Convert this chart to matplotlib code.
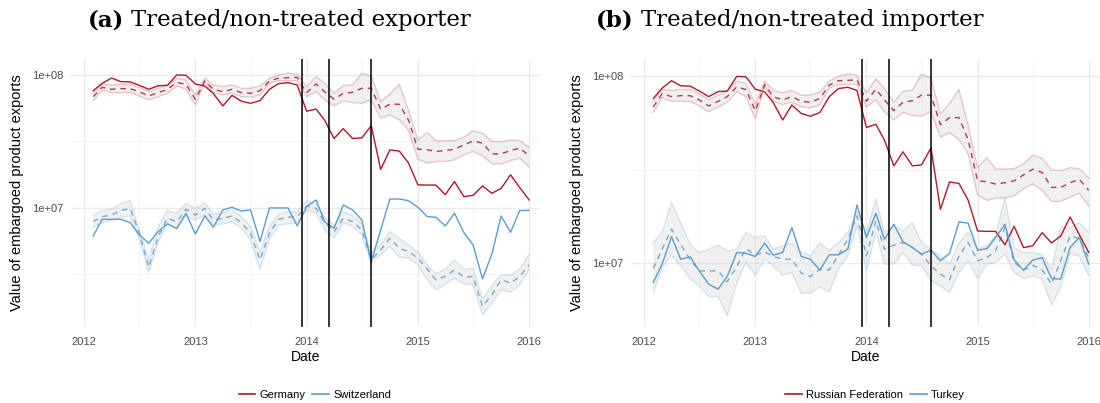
import matplotlib as mpl
import matplotlib.pyplot as plt
import matplotlib.dates as mdates
from matplotlib.lines import Line2D
import numpy as np
import pandas as pd

mpl.rcParams['font.family'] = ['Liberation Sans', 'DejaVu Sans']

# monthly observations, values stored as log10(USD)
months = pd.date_range("2012-02-01", periods=48, freq="MS")

# treated flow Germany -> Russian Federation: actual and synthetic control
treated_log = [7.88, 7.935, 7.975, 7.948, 7.946, 7.92, 7.89, 7.917, 7.92, 7.998, 7.996, 7.93,
               7.915, 7.858, 7.765, 7.845, 7.80, 7.785, 7.805, 7.89, 7.933, 7.94, 7.923, 7.725,
               7.742, 7.658, 7.52, 7.595, 7.52, 7.525, 7.616, 7.288, 7.434, 7.426, 7.337, 7.172,
               7.17, 7.17, 7.098, 7.197, 7.083, 7.093, 7.163, 7.108, 7.145, 7.247, 7.152, 7.058]
synth_log = [7.835, 7.905, 7.89, 7.895, 7.895, 7.872, 7.84, 7.865, 7.89, 7.942, 7.928, 7.814,
             7.954, 7.89, 7.872, 7.89, 7.865, 7.86, 7.88, 7.952, 7.975, 7.977, 7.98, 7.865,
             7.93, 7.872, 7.815, 7.86, 7.868, 7.898, 7.898, 7.74, 7.778, 7.778, 7.66, 7.44,
             7.435, 7.423, 7.43, 7.44, 7.472, 7.502, 7.485, 7.405, 7.405, 7.43, 7.448, 7.39]
synth_hi_log = [7.865, 7.928, 7.923, 7.928, 7.928, 7.905, 7.873, 7.898, 7.918, 7.973, 7.96, 7.848,
                7.973, 7.923, 7.91, 7.923, 7.898, 7.898, 7.915, 7.973, 7.998, 8.012, 8.005, 7.91,
                7.985, 7.935, 7.86, 7.918, 7.925, 8.01, 7.99, 7.798, 7.853, 7.928, 7.735, 7.51,
                7.565, 7.503, 7.503, 7.505, 7.53, 7.578, 7.56, 7.498, 7.495, 7.51, 7.505, 7.455]
synth_lo_log = [7.805, 7.885, 7.865, 7.865, 7.865, 7.84, 7.81, 7.835, 7.86, 7.915, 7.89, 7.773,
                7.948, 7.865, 7.848, 7.86, 7.835, 7.83, 7.848, 7.935, 7.955, 7.955, 7.955, 7.835,
                7.873, 7.81, 7.765, 7.805, 7.79, 7.785, 7.81, 7.673, 7.698, 7.66, 7.585, 7.365,
                7.335, 7.348, 7.348, 7.36, 7.398, 7.423, 7.39, 7.33, 7.33, 7.353, 7.373, 7.305]

# non-treated exporter: Switzerland
ch_log = [6.788, 6.913, 6.913, 6.913, 6.888, 6.795, 6.733, 6.82, 6.878, 6.845, 6.958, 6.803,
          6.938, 6.853, 6.983, 7.003, 6.975, 6.983, 6.745, 6.998, 6.998, 6.998, 6.863, 7.008,
          7.058, 6.895, 6.845, 7.02, 6.983, 6.908, 6.595, 6.833, 7.065, 7.065, 7.053, 7.003,
          6.933, 6.928, 6.863, 6.958, 6.813, 6.72, 6.465, 6.653, 6.938, 6.815, 6.978, 6.98]
ch_synth_log = [6.895, 6.933, 6.945, 6.978, 6.995, 6.808, 6.553, 6.783, 6.92, 6.895, 6.988, 6.945,
                6.995, 6.908, 6.92, 6.938, 6.888, 6.808, 6.608, 6.808, 6.913, 6.928, 6.933, 7.013,
                6.995, 6.888, 6.82, 6.92, 6.895, 6.833, 6.608, 6.683, 6.77, 6.695, 6.67, 6.62,
                6.538, 6.458, 6.483, 6.533, 6.478, 6.483, 6.258, 6.345, 6.458, 6.433, 6.483, 6.57]
ch_hi_log = [6.945, 6.978, 6.988, 7.033, 7.053, 6.833, 6.608, 6.858, 6.978, 6.958, 7.033, 6.995,
             7.038, 6.953, 6.963, 6.983, 6.933, 6.858, 6.67, 6.858, 6.953, 6.97, 6.97, 7.053,
             7.028, 6.928, 6.87, 6.97, 6.938, 6.883, 6.663, 6.72, 6.82, 6.77, 6.72, 6.67,
             6.57, 6.503, 6.538, 6.608, 6.538, 6.545, 6.313, 6.413, 6.495, 6.495, 6.538, 6.653]
ch_lo_log = [6.853, 6.888, 6.903, 6.928, 6.938, 6.763, 6.513, 6.738, 6.883, 6.838, 6.938, 6.908,
             6.945, 6.87, 6.878, 6.895, 6.845, 6.758, 6.538, 6.763, 6.87, 6.878, 6.888, 6.978,
             6.958, 6.833, 6.77, 6.888, 6.858, 6.795, 6.583, 6.645, 6.708, 6.628, 6.62, 6.57,
             6.458, 6.383, 6.42, 6.47, 6.428, 6.42, 6.195, 6.278, 6.383, 6.363, 6.42, 6.535]

# non-treated importer: Turkey
tr_log = [6.897, 6.995, 7.142, 7.021, 7.034, 6.959, 6.888, 6.861, 6.929, 7.057, 7.053, 7.036,
          7.107, 7.043, 7.057, 7.19, 7.036, 7.021, 6.963, 7.045, 7.045, 7.075, 7.311, 7.137,
          7.267, 7.128, 7.208, 7.114, 7.084, 7.048, 7.069, 7.013, 7.052, 7.221, 7.214, 7.069,
          7.078, 7.137, 7.208, 7.018, 6.963, 7.016, 7.03, 6.918, 6.915, 7.084, 7.137, 6.995]
tr_synth_log = [6.972, 7.075, 7.182, 7.101, 7.018, 6.959, 6.959, 6.959, 6.90, 6.982, 7.078, 7.043,
                7.061, 7.036, 7.021, 7.021, 6.947, 6.929, 6.968, 6.964, 7.043, 7.128, 7.253, 7.039,
                7.226, 7.075, 7.096, 7.11, 7.084, 7.048, 6.986, 6.941, 6.911, 7.039, 7.11, 7.013,
                7.03, 7.066, 7.19, 7.004, 6.963, 6.989, 6.964, 6.888, 7.013, 7.146, 7.132, 7.03]
tr_hi_log = [7.11, 7.164, 7.327, 7.217, 7.101, 7.057, 7.075, 7.096, 7.066, 7.075, 7.164, 7.137,
             7.146, 7.075, 7.093, 7.107, 7.061, 7.039, 7.11, 7.066, 7.11, 7.164, 7.279, 7.164,
             7.345, 7.164, 7.199, 7.173, 7.217, 7.11, 7.075, 7.039, 6.995, 7.11, 7.164, 7.075,
             7.093, 7.146, 7.351, 7.084, 7.057, 7.057, 7.048, 6.968, 7.19, 7.19, 7.217, 7.164]
tr_lo_log = [6.843, 6.977, 7.043, 6.986, 6.918, 6.879, 6.822, 6.822, 6.719, 6.893, 7.004, 6.936,
             7.021, 6.986, 6.936, 6.95, 6.84, 6.84, 6.874, 6.847, 6.968, 7.039, 7.199, 6.959,
             7.164, 6.995, 6.995, 7.057, 6.989, 6.986, 6.906, 6.879, 6.843, 6.95, 7.013, 6.918,
             6.995, 7.004, 7.048, 6.95, 6.918, 6.932, 6.915, 6.776, 6.87, 7.048, 7.039, 6.932]

# embargo-related events
events = ["2013-12-16", "2014-03-17", "2014-07-31"]

RED = '#B2182B'
BLUE = '#5A9FCC'


def lv(a):
    return 10 ** np.asarray(a)


fig = plt.figure(figsize=(11, 4.03), dpi=100)
ax1 = fig.add_axes([0.0643, 0.1886, 0.4267, 0.665])
ax2 = fig.add_axes([0.5734, 0.1886, 0.4263, 0.665])


def draw_panel(ax, pairs, ylim):
    for color, act, syn, lo, hi in pairs:
        ax.fill_between(months, lv(lo), lv(hi), facecolor='#DADADA', alpha=0.4,
                        edgecolor='none', zorder=2)
        ax.plot(months, lv(lo), color=color, alpha=0.22, lw=1.0, zorder=2)
        ax.plot(months, lv(hi), color=color, alpha=0.22, lw=1.0, zorder=2)
        ax.plot(months, lv(syn), color=color, alpha=0.85, lw=1.0, ls=(0, (4, 3.5)), zorder=3)
        ax.plot(months, lv(act), color=color, lw=1.0, zorder=4)
    for d in events:
        ax.axvline(pd.Timestamp(d), color='black', lw=1.1, zorder=5)

    ax.set_yscale('log')
    ax.set_yticks([1e7, 1e8])
    ax.set_yticklabels(['1e+07', '1e+08'])
    ax.set_yticks([10 ** 6.5, 10 ** 7.5], minor=True)
    ax.yaxis.set_minor_formatter(mpl.ticker.NullFormatter())
    ax.xaxis.set_major_locator(mdates.YearLocator())
    ax.xaxis.set_major_formatter(mdates.DateFormatter('%Y'))
    ax.xaxis.set_minor_locator(mdates.MonthLocator(bymonth=7))
    # limits go last so the tick setters cannot widen them
    ax.set_ylim(*ylim)
    ax.set_xlim(pd.Timestamp("2011-11-19"), pd.Timestamp("2016-02-06"))
    ax.grid(which='major', color='#EBEBEB', lw=1.0, zorder=0)
    ax.grid(which='minor', color='#F2F2F2', lw=0.6, zorder=0)
    ax.tick_params(which='both', length=0, labelsize=8, colors='#4D4D4D')
    ax.tick_params(axis='x', pad=7)
    ax.tick_params(axis='y', pad=5)
    for s in ax.spines.values():
        s.set_visible(False)
    ax.set_xlabel('Date', fontsize=10, color='black')
    ax.xaxis.set_label_coords(0.5, -0.086)
    ax.set_ylabel('Value of embargoed product exports', fontsize=10.5, color='black')
    ax.yaxis.set_label_coords(-0.099, 0.5)


draw_panel(ax1, [(RED, treated_log, synth_log, synth_lo_log, synth_hi_log),
                 (BLUE, ch_log, ch_synth_log, ch_lo_log, ch_hi_log)], (10 ** 6.103, 10 ** 8.118))
draw_panel(ax2, [(RED, treated_log, synth_log, synth_lo_log, synth_hi_log),
                 (BLUE, tr_log, tr_synth_log, tr_lo_log, tr_hi_log)], (10 ** 6.659, 10 ** 8.091))

# legends below each panel
for names, cx in [(['Germany', 'Switzerland'], 315), (['Russian Federation', 'Turkey'], 875)]:
    handles = [Line2D([], [], color=RED, lw=1.2), Line2D([], [], color=BLUE, lw=1.2)]
    fig.legend(handles, names, loc='center', bbox_to_anchor=(cx / 1100, 0.02), ncol=2,
               frameon=False, fontsize=8, handlelength=1.5, handletextpad=0.4,
               columnspacing=0.6, borderaxespad=0)

# panel captions: bold tag followed by regular text
fig.canvas.draw()
renderer = fig.canvas.get_renderer()
for tag, text, x0 in [('(a)', 'Treated/non-treated exporter', 88),
                      ('(b)', 'Treated/non-treated importer', 596)]:
    t = fig.text(x0 / 1100, 1 - 20 / 403, tag, family='DejaVu Serif', weight='bold',
                 fontsize=16.5, va='center', ha='left')
    bb = t.get_window_extent(renderer)
    fig.text((bb.x1 + 7) / 1100, 1 - 20 / 403, text, family='DejaVu Serif',
             fontsize=16.5, va='center', ha='left')

fig.savefig('out.png', dpi=100)
